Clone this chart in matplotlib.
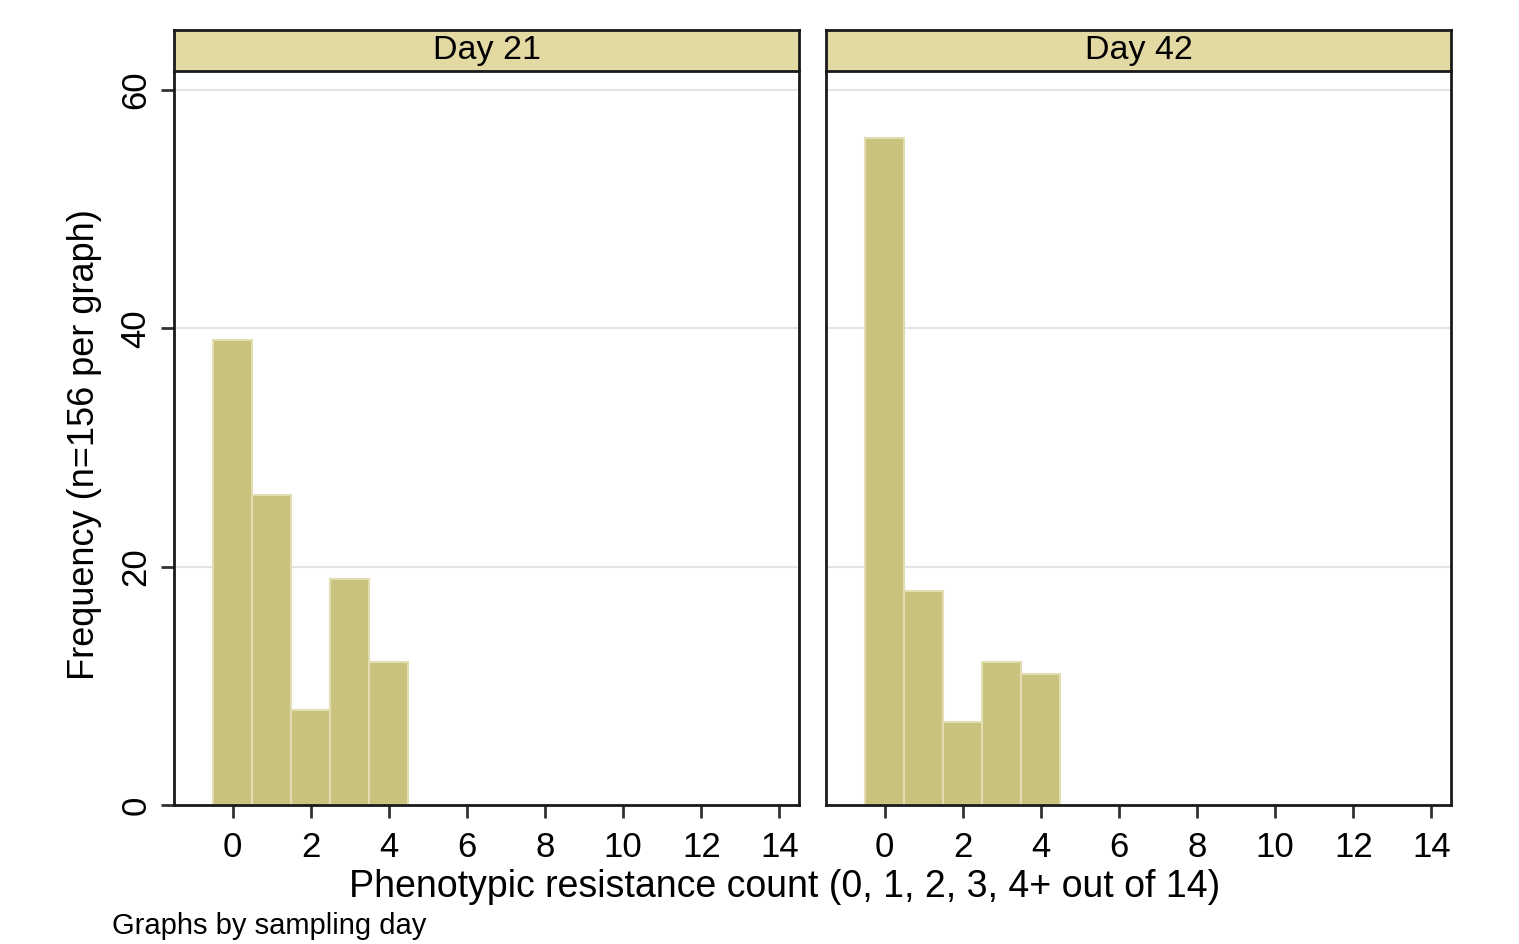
import matplotlib.pyplot as plt

#-----------------------------------------------------------------------------#
# data

counts = [0, 1, 2, 3, 4]
panels = ['Day 21', 'Day 42']
day21 = [39, 26, 8, 19, 12]
day42 = [56, 18, 7, 12, 11]
x_ticks = [0, 2, 4, 6, 8, 10, 12, 14]
y_ticks = [0, 20, 40, 60]

BAR = '#c8c27d'
BAR_EDGE = '#e2ddb0'
HEAD = '#e3d9a3'

plt.rcParams['font.family'] = ['Liberation Sans', 'DejaVu Sans']

#-----------------------------------------------------------------------------#
# plot

fig = plt.figure(figsize=(15.19, 9.44), dpi=100)

lefts = [174 / 1519, 826 / 1519]
width = 625 / 1519
bottom = 1 - 805 / 944
height = (805 - 71) / 944
head_h = 41 / 944

for i, (title, vals) in enumerate(zip(panels, [day21, day42])):
    ax = fig.add_axes([lefts[i], bottom, width, height])
    ax.bar(counts, vals, width=1.0, color=BAR, edgecolor=BAR_EDGE,
           linewidth=1.5, zorder=2)
    ax.set_xlim(-1.5, 14.5)
    ax.set_ylim(0, 61.6)
    ax.set_xticks(x_ticks)
    ax.set_yticks(y_ticks)
    ax.grid(axis='y', color='#e4e4e4', linewidth=1.5, zorder=0)
    ax.set_axisbelow(True)
    ax.spines['top'].set_visible(False)
    for s in ['left', 'right', 'bottom']:
        ax.spines[s].set_linewidth(2)
        ax.spines[s].set_color('#1a1a1a')
    ax.tick_params(axis='both', direction='out', length=9.5, width=2,
                   labelsize=25, color='#333333')
    ax.tick_params(axis='x', pad=9)
    if i == 0:
        ax.tick_params(axis='y', pad=6)
        for lab in ax.get_yticklabels():
            lab.set_rotation(90)
            lab.set_va('center')
    else:
        ax.tick_params(axis='y', left=False, labelleft=False)

    # header strip
    hax = fig.add_axes([lefts[i], bottom + height, width, head_h])
    hax.set_xticks([])
    hax.set_yticks([])
    hax.set_facecolor(HEAD)
    for s in hax.spines.values():
        s.set_linewidth(2)
        s.set_color('#1a1a1a')
    hax.text(0.5, 0.5, title, ha='center', va='center', fontsize=24.5,
             transform=hax.transAxes)

fig.text(85 / 1519, 1 - 445 / 944, 'Frequency (n=156 per graph)',
         rotation=90, ha='center', va='center', fontsize=26)
fig.text(785 / 1519, 1 - 887 / 944,
         'Phenotypic resistance count (0, 1, 2, 3, 4+ out of 14)',
         ha='center', va='center', fontsize=27)
fig.text(112 / 1519, 1 - 926 / 944, 'Graphs by sampling day',
         ha='left', va='center', fontsize=21)

fig.savefig('out.png', dpi=100)
